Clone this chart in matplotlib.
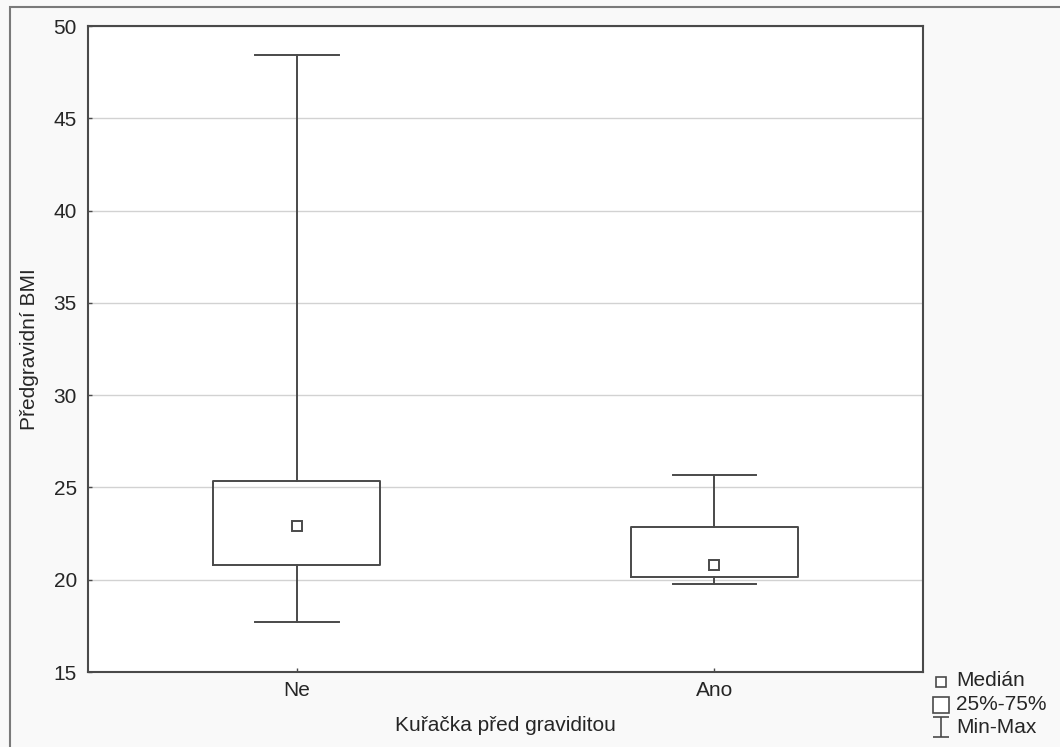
import matplotlib
matplotlib.use("Agg")
import matplotlib.pyplot as plt
from matplotlib.lines import Line2D
from matplotlib.patches import Rectangle
from matplotlib.path import Path

plt.rcParams['font.family'] = ['Liberation Sans', 'DejaVu Sans']

categories = ["Ne", "Ano"]
minimum = [17.7, 19.75]
q1 = [20.82, 20.17]
median = [22.9, 20.8]
q3 = [25.35, 22.87]
maximum = [48.45, 25.7]
yticks = [15, 20, 25, 30, 35, 40, 45, 50]
legend_labels = ["Medián", "25%-75%", "Min-Max"]

line_c = '#4a4a4a'
text_c = '#262626'
FS = 15
W, H = 1060, 747
AX_L, AX_R, AX_T, AX_B = 88, 923, 26, 672

fig = plt.figure(figsize=(10.6, 7.47), dpi=100, facecolor='#f9f9f9')
ax = fig.add_axes([AX_L/W, 1-AX_B/H, (AX_R-AX_L)/W, (AX_B-AX_T)/H])
ax.set_facecolor('white')

stats = []
for i in range(len(categories)):
    stats.append(dict(whislo=minimum[i], q1=q1[i], med=median[i], q3=q3[i],
                      whishi=maximum[i], fliers=[], label=categories[i]))
pos = list(range(len(categories)))
ax.bxp(stats, positions=pos, widths=0.4, capwidths=0.2, showfliers=False,
       boxprops=dict(color=line_c, linewidth=1.4),
       whiskerprops=dict(color=line_c, linewidth=1.4),
       capprops=dict(color=line_c, linewidth=1.4),
       medianprops=dict(visible=False), zorder=3)
ax.plot(pos, median, linestyle='none', marker='s', markersize=7,
        markerfacecolor='white', markeredgecolor=line_c, markeredgewidth=1.4, zorder=4)

ax.set_xlim(-0.5, len(categories) - 0.5)
ax.set_ylim(15, 50)
ax.set_yticks(yticks)
ax.set_xticks(pos)
ax.set_xticklabels(categories)
ax.yaxis.grid(True, color='#d2d2d2', linewidth=1.0, zorder=0)
ax.set_axisbelow(True)
ax.tick_params(axis='both', direction='in', length=3, width=1, color=line_c,
               labelsize=FS, labelcolor=text_c)
ax.tick_params(axis='y', pad=8)
ax.tick_params(axis='x', pad=6.5)
for s in ax.spines.values():
    s.set_color(line_c)
    s.set_linewidth(1.5)

ax.set_ylabel("Předgravidní BMI", fontsize=FS, color=text_c)
ax.yaxis.set_label_coords((39 - AX_L) / (AX_R - AX_L), 0.5)
ax.set_xlabel("Kuřačka před graviditou", fontsize=FS, color=text_c)
ax.xaxis.set_label_coords(0.5, (AX_B - 716) / (AX_B - AX_T))

# outer frame
fig.patches.append(Rectangle((10/W, -0.05), 1.2, 1 - 7/H + 0.05,
                             transform=fig.transFigure, fill=False,
                             edgecolor='#7a7a7a', linewidth=1.5))

# legend (drawn in figure coordinates)
whisk = Path([(-0.4, 0.5), (0.4, 0.5), (0, 0.5), (0, -0.5), (-0.4, -0.5), (0.4, -0.5)],
             [Path.MOVETO, Path.LINETO, Path.MOVETO, Path.LINETO, Path.MOVETO, Path.LINETO])
leg_markers = [('s', 7, 681.5), ('s', 12, 704.5), (whisk, 14.5, 727)]
leg_base = [686, 710, 733]
for (mk, ms, my), lab, yb in zip(leg_markers, legend_labels, leg_base):
    fig.add_artist(Line2D([941/W], [1 - my/H], transform=fig.transFigure,
                          linestyle='none', marker=mk, markersize=ms,
                          markerfacecolor='white' if mk == 's' else 'none',
                          markeredgecolor=line_c, markeredgewidth=1.2))
    fig.text(956/W, 1 - yb/H, lab, fontsize=FS, color=text_c, ha='left', va='baseline')

fig.savefig("out.png", dpi=100, facecolor=fig.get_facecolor())
